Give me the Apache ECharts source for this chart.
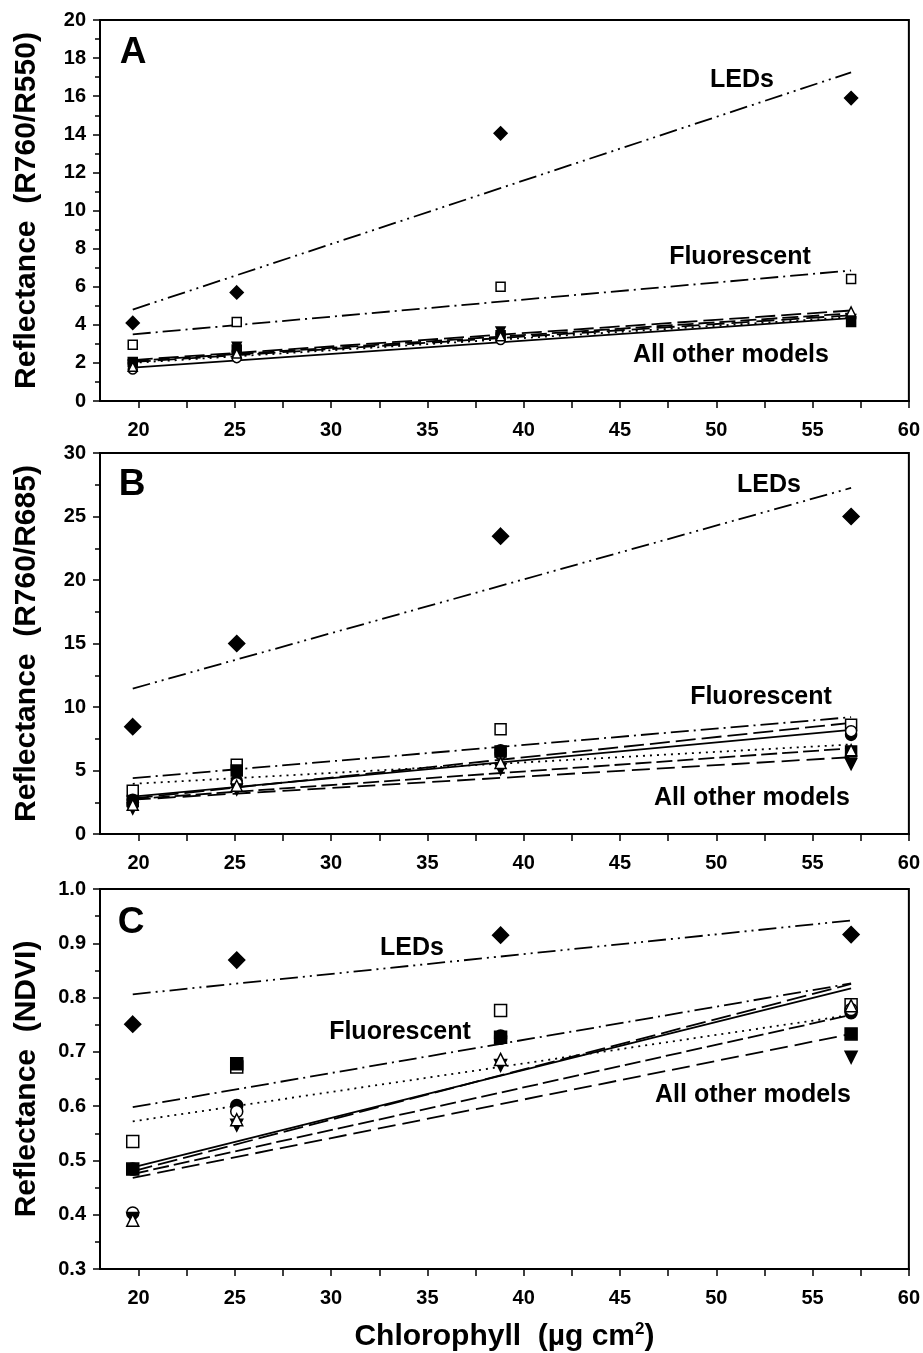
<!DOCTYPE html>
<html lang="en">
<head>
    <meta charset="UTF-8">
    <title>Reflectance vs Chlorophyll</title>
    <script src="https://cdn.jsdelivr.net/npm/echarts@6/dist/echarts.min.js"></script>
    <style>
        html, body { margin: 0; padding: 0; background: #fff; }
    </style>
</head>
<body>
    <div id="chart" style="width:923px;height:1353px;"></div>
    <script>
        // chlorophyll levels (x)
        var chl = [19.7, 25.1, 38.8, 57.0];
        var fitX = [19.7, 57.0];

        var xLabels = [20, 25, 30, 35, 40, 45, 50, 55, 60];
        var xTicks = [20, 22.5, 25, 27.5, 30, 32.5, 35, 37.5, 40, 42.5, 45, 47.5, 50, 52.5, 55, 57.5, 60];

        var models = ['LEDs', 'Fluorescent', 'M1', 'M2', 'M3', 'M4', 'M5'];

        // panel A  R760/R550
        var aPts = {
            LEDs:        [4.1, 5.7, 14.05, 15.9],
            Fluorescent: [2.95, 4.15, 6.0, 6.4],
            M1:          [2.0, 2.6, 3.5, 4.4],
            M2:          [1.65, 2.25, 3.2, 4.35],
            M3:          [2.05, 2.7, 3.45, 4.15],
            M4:          [1.9, 2.85, 3.65, 4.3],
            M5:          [1.8, 2.5, 3.4, 4.7]
        };
        var aFit = {
            LEDs: [4.8, 17.25], Fluorescent: [3.5, 6.85],
            M1: [1.75, 4.35], M2: [2.15, 4.75], M3: [2.1, 4.6], M4: [2.05, 4.5], M5: [2.0, 4.4]
        };

        // panel B  R760/R685
        var bPts = {
            LEDs:        [8.45, 15.0, 23.45, 25.0],
            Fluorescent: [3.4, 5.45, 8.25, 8.6],
            M1:          [2.7, 4.2, 6.6, 7.8],
            M2:          [2.3, 4.0, 6.3, 8.1],
            M3:          [2.6, 5.0, 6.5, 6.5],
            M4:          [2.0, 3.5, 5.1, 5.5],
            M5:          [2.3, 3.8, 5.6, 6.6]
        };
        var bFit = {
            LEDs: [11.45, 27.25], Fluorescent: [4.4, 9.2],
            M1: [2.95, 8.2], M2: [2.8, 8.75], M3: [2.75, 6.75], M4: [2.7, 6.05], M5: [3.95, 7.05]
        };

        // panel C  NDVI
        var cPts = {
            LEDs:        [0.751, 0.869, 0.915, 0.916],
            Fluorescent: [0.535, 0.672, 0.776, 0.787],
            M1:          [0.484, 0.601, 0.729, 0.772],
            M2:          [0.403, 0.590, 0.725, 0.778],
            M3:          [0.484, 0.678, 0.727, 0.733],
            M4:          [0.393, 0.565, 0.675, 0.690],
            M5:          [0.390, 0.575, 0.686, 0.785]
        };
        var cFit = {
            LEDs: [0.806, 0.942], Fluorescent: [0.598, 0.826],
            M1: [0.487, 0.817], M2: [0.480, 0.825], M3: [0.475, 0.768], M4: [0.468, 0.733], M5: [0.572, 0.768]
        };

        var font = 'Arial, "Liberation Sans", sans-serif';

        // marker look per model
        var marks = {
            LEDs:        {symbol: 'diamond', fill: '#000', rot: 0, big: true},
            Fluorescent: {symbol: 'rect', fill: '#fff', rot: 0},
            M1:          {symbol: 'circle', fill: '#000', rot: 0},
            M2:          {symbol: 'circle', fill: '#fff', rot: 0},
            M3:          {symbol: 'rect', fill: '#000', rot: 0},
            M4:          {symbol: 'triangle', fill: '#000', rot: 180},
            M5:          {symbol: 'triangle', fill: '#fff', rot: 0}
        };
        // fit line dash
        var dashes = {
            LEDs: [18, 5, 2, 5, 2, 5],
            Fluorescent: [18, 5, 2, 5],
            M1: 'solid',
            M2: [20, 6],
            M3: [16, 5],
            M4: [18, 7],
            M5: [2, 5]
        };

        var panels = [
            {pts: aPts, fit: aFit, top: 20, height: 381, min: 0, max: 20, interval: 2,
             name: 'Reflectance  (R760/R550)', dig: 0, big: 13, small: 9},
            {pts: bPts, fit: bFit, top: 453, height: 381, min: 0, max: 30, interval: 5,
             name: 'Reflectance  (R760/R685)', dig: 0, big: 16, small: 11},
            {pts: cPts, fit: cFit, top: 889, height: 380, min: 0.3, max: 1.0, interval: 0.1,
             name: 'Reflectance  (NDVI)', dig: 1, big: 16, small: 12}
        ];

        var grids = [], xAxes = [], yAxes = [], series = [];

        panels.forEach(function (p, i) {
            grids.push({
                left: 100, top: p.top, width: 809, height: p.height,
                show: true, borderColor: '#000', borderWidth: 2, backgroundColor: 'transparent'
            });
            var xa = {
                gridIndex: i, type: 'value', min: 18, max: 60,
                axisLine: {show: true, onZero: false, lineStyle: {color: '#000', width: 2}},
                axisTick: {show: true, inside: false, length: 7, lineStyle: {color: '#000', width: 1.5},
                    customValues: xTicks},
                axisLabel: {show: true, margin: 19, color: '#000', fontSize: 20, fontWeight: 'bold',
                    fontFamily: font, customValues: xLabels},
                splitLine: {show: false}
            };
            if (i === 2) {
                xa.name = '{t|Chlorophyll  (µg cm}{s|2}{t|)}';
                xa.nameLocation = 'middle';
                xa.nameGap = 52;
                xa.nameTextStyle = {
                    rich: {
                        t: {fontSize: 30, fontWeight: 'bold', fontFamily: font, color: '#000'},
                        s: {fontSize: 17, fontWeight: 'bold', fontFamily: font, color: '#000',
                            verticalAlign: 'top', padding: [0, 0, 14, 0]}
                    }
                };
            }
            xAxes.push(xa);
            yAxes.push({
                gridIndex: i, type: 'value', min: p.min, max: p.max, interval: p.interval,
                name: p.name, nameLocation: 'middle', nameRotate: 90, nameGap: 58,
                nameTextStyle: {fontSize: 30, fontWeight: 'bold', fontFamily: font, color: '#000'},
                axisLine: {show: true, onZero: false, lineStyle: {color: '#000', width: 2}},
                axisTick: {show: true, inside: false, length: 7, lineStyle: {color: '#000', width: 1.5}},
                minorTick: {show: true, splitNumber: 2, length: 5, lineStyle: {color: '#000', width: 1.5}},
                axisLabel: {margin: 14, color: '#000', fontSize: 20, fontWeight: 'bold', fontFamily: font,
                    formatter: function (v) { return v.toFixed(p.dig); }},
                splitLine: {show: false}
            });

            models.forEach(function (m) {
                // regression line
                series.push({
                    type: 'line', xAxisIndex: i, yAxisIndex: i, symbol: 'none', silent: true,
                    data: [[fitX[0], p.fit[m][0]], [fitX[1], p.fit[m][1]]],
                    lineStyle: {color: '#000', width: 1.8, type: dashes[m]},
                    z: 2
                });
            });
            models.forEach(function (m) {
                var mk = marks[m];
                series.push({
                    type: 'scatter', xAxisIndex: i, yAxisIndex: i,
                    symbol: mk.symbol, symbolRotate: mk.rot,
                    symbolSize: mk.big ? p.big : p.small,
                    data: chl.map(function (x, k) { return [x, p.pts[m][k]]; }),
                    itemStyle: {color: mk.fill, borderColor: '#000', borderWidth: 1.5, opacity: 1},
                    z: 3
                });
            });
        });

        function txt(x, y, s, size) {
            return {
                type: 'text', x: x, y: y, z: 10,
                style: {text: s, fill: '#000', font: 'bold ' + size + 'px ' + font,
                    textAlign: 'center', textVerticalAlign: 'middle'}
            };
        }

        var myChart = echarts.init(document.getElementById('chart'));
        myChart.setOption({
            backgroundColor: '#fff',
            animation: false,
            grid: grids,
            xAxis: xAxes,
            yAxis: yAxes,
            series: series,
            graphic: [
                txt(133, 53, 'A', 37), txt(132, 485, 'B', 37), txt(131, 923, 'C', 37),
                txt(742, 80, 'LEDs', 25), txt(740, 257, 'Fluorescent', 25), txt(731, 355, 'All other models', 25),
                txt(769, 485, 'LEDs', 25), txt(761, 697, 'Fluorescent', 25), txt(752, 798, 'All other models', 25),
                txt(412, 948, 'LEDs', 25), txt(400, 1032, 'Fluorescent', 25), txt(753, 1095, 'All other models', 25)
            ]
        });
    </script>
</body>
</html>
